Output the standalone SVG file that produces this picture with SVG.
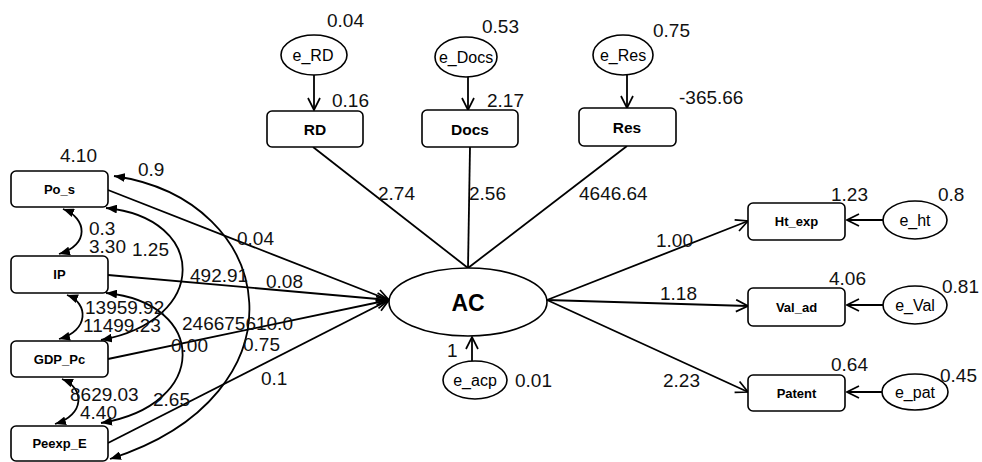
<svg xmlns="http://www.w3.org/2000/svg" width="982" height="462" viewBox="0 0 982 462">
<style>
.box{fill:#fff;stroke:#000;stroke-width:1.6}
.ell{fill:#fff;stroke:#000;stroke-width:1.6}
.bl{font-family:"Liberation Sans",Arial,sans-serif;font-weight:bold;font-size:13px;text-anchor:middle;fill:#000}
.bt{font-family:"Liberation Sans",Arial,sans-serif;font-weight:bold;font-size:15.5px;text-anchor:middle;fill:#000}
.el{font-family:"Liberation Sans",Arial,sans-serif;font-size:16px;text-anchor:middle;fill:#000}
.n{font-family:"Liberation Sans",Arial,sans-serif;font-size:19px;fill:#111}
.ln{fill:none;stroke:#000;stroke-width:1.8}
.op{marker-end:url(#open)}
.cv{marker-start:url(#fa);marker-end:url(#fa)}
</style>
<defs>
<marker id="open" viewBox="0 0 14 14" refX="13" refY="7" markerWidth="14" markerHeight="14" markerUnits="userSpaceOnUse" orient="auto"><path d="M1,1 L13,7 L1,13" fill="none" stroke="#000" stroke-width="1.7"/></marker>
<marker id="fa" viewBox="0 0 10 8" refX="10" refY="4" markerWidth="11" markerHeight="9" markerUnits="userSpaceOnUse" orient="auto-start-reverse"><path d="M0,0 L10,4 L0,8 z" fill="#000"/></marker>
</defs>
<rect width="982" height="462" fill="#fff"/>

<g id="connectors">
<line class="ln" x1="313" y1="147" x2="468" y2="268"/>
<line class="ln" x1="470" y1="147" x2="468" y2="268"/>
<line class="ln" x1="627" y1="146" x2="468" y2="268"/>
<line class="ln op" x1="314" y1="75" x2="314" y2="110"/>
<line class="ln op" x1="468" y1="77" x2="468" y2="110"/>
<line class="ln op" x1="627" y1="75" x2="627" y2="108"/>
<line class="ln op" x1="108" y1="190" x2="389" y2="300"/>
<line class="ln op" x1="108" y1="275" x2="389" y2="300"/>
<line class="ln op" x1="108" y1="359" x2="389" y2="300"/>
<line class="ln op" x1="108" y1="443" x2="389" y2="300"/>
<line class="ln op" x1="547" y1="300" x2="748" y2="221"/>
<line class="ln op" x1="547" y1="300" x2="748" y2="306"/>
<line class="ln op" x1="547" y1="300" x2="748" y2="392"/>
<line class="ln op" x1="883" y1="220" x2="847" y2="220"/>
<line class="ln op" x1="883" y1="305" x2="847" y2="305"/>
<line class="ln op" x1="882" y1="392" x2="847" y2="392"/>
<line class="ln op" x1="472" y1="361" x2="472" y2="337"/>
<path class="ln cv" d="M63,209 C87,218 90,245 59,254"/>
<path class="ln cv" d="M67,295 C89,303 89,331 59,339"/>
<path class="ln cv" d="M62,379 C85,388 85,415 55,424"/>
<path class="ln cv" d="M106,208 C208,218 210,320 101,340"/>
<path class="ln cv" d="M106,293 C208,303 210,405 101,423"/>
<path class="ln cv" d="M114,176 C280,200 310,395 110,459"/>
</g>

<g id="Po_s"><rect class="box" x="11" y="171" width="97" height="36" rx="5"/><text class="bl" x="59.5" y="194">Po_s</text></g>
<g id="IP"><rect class="box" x="11" y="256" width="97" height="37" rx="5"/><text class="bl" x="59.5" y="279">IP</text></g>
<g id="GDP_Pc"><rect class="box" x="11" y="341" width="97" height="36" rx="5"/><text class="bl" x="59.5" y="364">GDP_Pc</text></g>
<g id="Peexp_E"><rect class="box" x="11" y="426" width="97" height="35" rx="5"/><text class="bl" x="59.5" y="448">Peexp_E</text></g>

<g id="RD"><rect class="box" x="267" y="111" width="96" height="36" rx="5"/><text class="bt" x="315" y="135">RD</text></g>
<g id="Docs"><rect class="box" x="422" y="110" width="96" height="37" rx="5"/><text class="bt" x="470" y="135">Docs</text></g>
<g id="Res"><rect class="box" x="579" y="108" width="97" height="38" rx="5"/><text class="bt" x="627" y="133">Res</text></g>

<g id="e_RD"><ellipse class="ell" cx="314" cy="55" rx="33" ry="20"/><text class="el" x="313" y="61">e_RD</text></g>
<g id="e_Docs"><ellipse class="ell" cx="466" cy="57" rx="31" ry="20"/><text class="el" x="466" y="63">e_Docs</text></g>
<g id="e_Res"><ellipse class="ell" cx="623" cy="55" rx="30" ry="20"/><text class="el" x="623" y="61">e_Res</text></g>

<g id="AC"><ellipse class="ell" cx="468" cy="302" rx="79" ry="34"/><text x="468" y="311" style="font-family:'Liberation Sans',Arial,sans-serif;font-weight:bold;font-size:23px;text-anchor:middle">AC</text></g>
<g id="e_acp"><ellipse class="ell" cx="475" cy="380" rx="32" ry="19"/><text class="el" x="475" y="386">e_acp</text></g>

<g id="Ht_exp"><rect class="box" x="748" y="203" width="97" height="37" rx="5"/><text class="bl" x="796.5" y="226">Ht_exp</text></g>
<g id="Val_ad"><rect class="box" x="748" y="288" width="97" height="38" rx="5"/><text class="bl" x="796.5" y="312">Val_ad</text></g>
<g id="Patent"><rect class="box" x="748" y="375" width="97" height="36" rx="5"/><text class="bl" x="796.5" y="398">Patent</text></g>

<g id="e_ht"><ellipse class="ell" cx="915" cy="220" rx="32" ry="19"/><text class="el" x="915" y="226">e_ht</text></g>
<g id="e_Val"><ellipse class="ell" cx="915" cy="305" rx="32" ry="19"/><text class="el" x="915" y="311">e_Val</text></g>
<g id="e_pat"><ellipse class="ell" cx="915" cy="392" rx="33" ry="18"/><text class="el" x="915" y="398">e_pat</text></g>

<g id="labels">
<text class="n" x="327" y="27">0.04</text>
<text class="n" x="332" y="107">0.16</text>
<text class="n" x="482" y="33">0.53</text>
<text class="n" x="487" y="107">2.17</text>
<text class="n" x="653" y="37">0.75</text>
<text class="n" x="679" y="104">-365.66</text>
<text class="n" x="378" y="200">2.74</text>
<text class="n" x="469" y="200">2.56</text>
<text class="n" x="579" y="200">4646.64</text>
<text class="n" x="60" y="162">4.10</text>
<text class="n" x="138" y="176">0.9</text>
<text class="n" x="89" y="235">0.3</text>
<text class="n" x="89" y="253">3.30</text>
<text class="n" x="132" y="256">1.25</text>
<text class="n" x="237" y="245">0.04</text>
<text class="n" x="190" y="282">492.91</text>
<text class="n" x="266" y="288">0.08</text>
<text class="n" x="85" y="314">13959.92</text>
<text class="n" x="83" y="332">11499.23</text>
<text class="n" x="182" y="330">246675610.0</text>
<text class="n" x="171" y="352">0.00</text>
<text class="n" x="243" y="351">0.75</text>
<text class="n" x="261" y="385">0.1</text>
<text class="n" x="70" y="401">8629.03</text>
<text class="n" x="80" y="419">4.40</text>
<text class="n" x="153" y="406">2.65</text>
<text class="n" x="447" y="357">1</text>
<text class="n" x="515" y="387">0.01</text>
<text class="n" x="656" y="247">1.00</text>
<text class="n" x="660" y="300">1.18</text>
<text class="n" x="663" y="387">2.23</text>
<text class="n" x="831" y="201">1.23</text>
<text class="n" x="938" y="201">0.8</text>
<text class="n" x="829" y="285">4.06</text>
<text class="n" x="942" y="293">0.81</text>
<text class="n" x="831" y="371">0.64</text>
<text class="n" x="940" y="382">0.45</text>
</g>
</svg>
